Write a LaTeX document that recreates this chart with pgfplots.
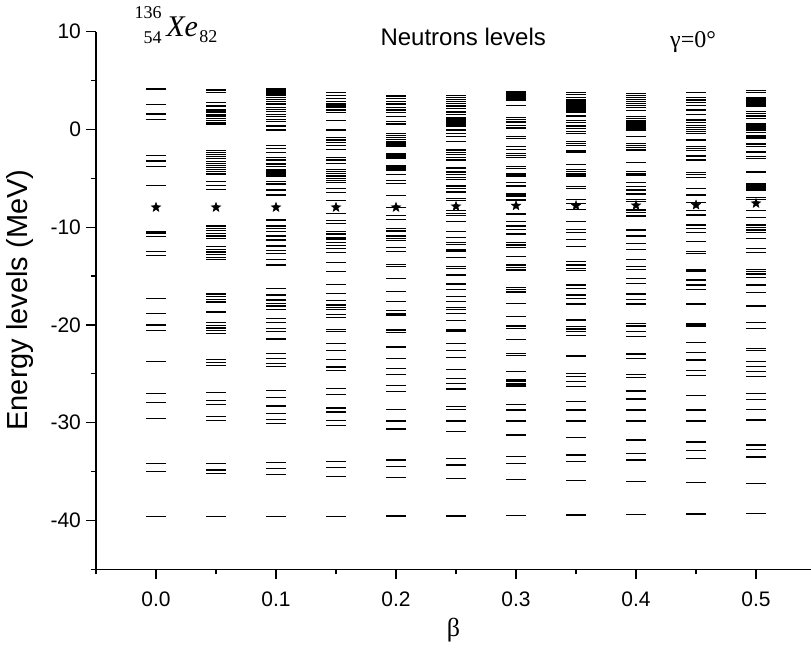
\documentclass[border=0pt]{standalone}
\usepackage{pgfplots}
\pgfplotsset{compat=1.18}
\usepackage{fontspec}
\setmainfont{Liberation Sans}
\newfontfamily\serif{Liberation Serif}
\pgfdeclareplotmark{fstar}{%
  \pgfpathmoveto{\pgfpointpolar{90}{\pgfplotmarksize}}%
  \pgfpathlineto{\pgfpointpolar{126}{0.42*\pgfplotmarksize}}%
  \pgfpathlineto{\pgfpointpolar{162}{\pgfplotmarksize}}%
  \pgfpathlineto{\pgfpointpolar{198}{0.42*\pgfplotmarksize}}%
  \pgfpathlineto{\pgfpointpolar{234}{\pgfplotmarksize}}%
  \pgfpathlineto{\pgfpointpolar{270}{0.42*\pgfplotmarksize}}%
  \pgfpathlineto{\pgfpointpolar{306}{\pgfplotmarksize}}%
  \pgfpathlineto{\pgfpointpolar{342}{0.42*\pgfplotmarksize}}%
  \pgfpathlineto{\pgfpointpolar{18}{\pgfplotmarksize}}%
  \pgfpathlineto{\pgfpointpolar{54}{0.42*\pgfplotmarksize}}%
  \pgfpathclose
  \pgfusepathqfillstroke}
\begin{document}
\begin{tikzpicture}
\useasboundingbox (-48pt,-39.85pt) rectangle (357.5pt,284.65pt);
\begin{axis}[
  scale only axis, width=357.5pt, height=268.8pt,
  xmin=-0.05, xmax=0.5458, ymin=-45, ymax=10,
  axis x line*=bottom, axis y line*=left,
  axis line style={line width=0.75pt},
  tick align=outside, major tick length=5pt, minor tick length=2.5pt,
  tick style={line width=0.6pt, black},
  xtick={0,0.1,0.2,0.3,0.4,0.5},
  minor xtick={-0.05,0.05,0.15,0.25,0.35,0.45},
  ytick={-40,-30,-20,-10,0,10},
  minor ytick={-45,-35,-25,-15,-5,5},
  /pgf/number format/assume math mode=true,
  xticklabel style={/pgf/number format/fixed, /pgf/number format/fixed zerofill, /pgf/number format/precision=1, yshift=-2.5pt},
  yticklabel style={xshift=1pt},
  ticklabel style={font=\fontsize{10.5}{12}\selectfont},
  clip=false,
  lvl/.style={only marks, mark=-, mark size=5pt, mark options={line width=0.6pt, black}},
]
\addplot[lvl] coordinates {(0,4.13)(0,2.57)(0,1.58)(0,1.03)(0,-2.69)(0,-3.23)(0,-3.81)(0,-5.76)(0,-10.45)(0,-10.6)(0,-10.97)(0,-12.5)(0,-12.9)(0,-17.3)(0,-18.85)(0,-20.0)(0,-20.6)(0,-23.7)(0,-27.0)(0,-27.9)(0,-29.6)(0,-34.2)(0,-35.0)(0,-39.6)};
\addplot[lvl] coordinates {(0.05,4.1)(0.05,3.95)(0.05,3.8)(0.05,2.77)(0.05,2.39)(0.05,1.98)(0.05,1.78)(0.05,1.57)(0.05,1.37)(0.05,1.1)(0.05,0.89)(0.05,0.69)(0.05,0.55)(0.05,-2.18)(0.05,-2.38)(0.05,-2.59)(0.05,-2.79)(0.05,-2.99)(0.05,-3.27)(0.05,-3.47)(0.05,-3.67)(0.05,-3.88)(0.05,-4.08)(0.05,-4.32)(0.05,-4.56)(0.05,-5.32)(0.05,-5.72)(0.05,-6.13)(0.05,-9.88)(0.05,-10.12)(0.05,-10.36)(0.05,-10.63)(0.05,-10.9)(0.05,-11.17)(0.05,-11.99)(0.05,-12.27)(0.05,-12.54)(0.05,-12.81)(0.05,-13.08)(0.05,-13.29)(0.05,-16.84)(0.05,-17.11)(0.05,-17.39)(0.05,-17.66)(0.05,-18.68)(0.05,-19.77)(0.05,-20.04)(0.05,-20.31)(0.05,-20.59)(0.05,-20.86)(0.05,-23.52)(0.05,-23.86)(0.05,-24.13)(0.05,-26.94)(0.05,-27.69)(0.05,-28.1)(0.05,-29.4)(0.05,-29.8)(0.05,-34.2)(0.05,-34.85)(0.05,-35.16)(0.05,-39.6)};
\addplot[lvl] coordinates {(0.1,4.13)(0.1,3.93)(0.1,3.72)(0.1,3.52)(0.1,3.28)(0.1,3.08)(0.1,2.87)(0.1,2.6)(0.1,2.26)(0.1,2.06)(0.1,1.85)(0.1,1.54)(0.1,1.3)(0.1,1.03)(0.1,0.79)(0.1,0.35)(0.1,-0.06)(0.1,-1.67)(0.1,-1.94)(0.1,-2.38)(0.1,-2.85)(0.1,-3.13)(0.1,-3.54)(0.1,-3.81)(0.1,-4.15)(0.1,-4.36)(0.1,-4.56)(0.1,-4.77)(0.1,-5.35)(0.1,-5.59)(0.1,-6.2)(0.1,-6.71)(0.1,-9.27)(0.1,-9.88)(0.1,-10.12)(0.1,-10.46)(0.1,-10.9)(0.1,-11.31)(0.1,-11.93)(0.1,-12.4)(0.1,-12.68)(0.1,-13.29)(0.1,-13.87)(0.1,-16.3)(0.1,-16.94)(0.1,-17.45)(0.1,-17.8)(0.1,-18.07)(0.1,-18.41)(0.1,-19.33)(0.1,-19.77)(0.1,-20.35)(0.1,-20.69)(0.1,-21.44)(0.1,-22.9)(0.1,-23.42)(0.1,-23.93)(0.1,-24.28)(0.1,-26.7)(0.1,-27.4)(0.1,-28.3)(0.1,-29.1)(0.1,-29.7)(0.1,-30.1)(0.1,-34.1)(0.1,-34.7)(0.1,-35.3)(0.1,-39.6)};
\addplot[lvl] coordinates {(0.15,3.76)(0.15,3.49)(0.15,3.14)(0.15,2.87)(0.15,2.6)(0.15,2.39)(0.15,2.26)(0.15,1.98)(0.15,1.71)(0.15,0.89)(0.15,-0.06)(0.15,-0.81)(0.15,-1.08)(0.15,-1.36)(0.15,-1.63)(0.15,-2.04)(0.15,-2.85)(0.15,-3.13)(0.15,-3.47)(0.15,-4.08)(0.15,-4.29)(0.15,-4.5)(0.15,-4.7)(0.15,-4.83)(0.15,-5.05)(0.15,-5.25)(0.15,-5.45)(0.15,-6.07)(0.15,-6.47)(0.15,-7.3)(0.15,-8.62)(0.15,-9.34)(0.15,-9.6)(0.15,-10.4)(0.15,-10.7)(0.15,-11.1)(0.15,-11.3)(0.15,-11.6)(0.15,-11.9)(0.15,-12.2)(0.15,-12.6)(0.15,-13.6)(0.15,-14.5)(0.15,-15.85)(0.15,-16.8)(0.15,-17.5)(0.15,-17.96)(0.15,-18.2)(0.15,-18.4)(0.15,-18.9)(0.15,-19.2)(0.15,-20.45)(0.15,-20.7)(0.15,-21.9)(0.15,-22.6)(0.15,-23.55)(0.15,-24.3)(0.15,-24.7)(0.15,-26.5)(0.15,-27.1)(0.15,-28.5)(0.15,-28.9)(0.15,-29.8)(0.15,-30.3)(0.15,-33.95)(0.15,-34.6)(0.15,-35.5)(0.15,-39.6)};
\addplot[lvl] coordinates {(0.2,3.42)(0.2,3.14)(0.2,2.87)(0.2,2.6)(0.2,2.26)(0.2,1.98)(0.2,1.71)(0.2,1.3)(0.2,0.79)(0.2,0.55)(0.2,-0.4)(0.2,-0.61)(0.2,-0.81)(0.2,-1.01)(0.2,-1.29)(0.2,-1.49)(0.2,-1.7)(0.2,-2.52)(0.2,-2.72)(0.2,-2.93)(0.2,-3.74)(0.2,-3.95)(0.2,-4.15)(0.2,-4.63)(0.2,-5.25)(0.2,-5.52)(0.2,-6.75)(0.2,-7.97)(0.2,-8.83)(0.2,-9.2)(0.2,-10.12)(0.2,-10.39)(0.2,-10.9)(0.2,-11.14)(0.2,-11.38)(0.2,-12.06)(0.2,-12.51)(0.2,-13.8)(0.2,-14.04)(0.2,-15.27)(0.2,-16.6)(0.2,-17.62)(0.2,-18.54)(0.2,-18.81)(0.2,-18.99)(0.2,-20.52)(0.2,-20.76)(0.2,-22.26)(0.2,-23.46)(0.2,-24.44)(0.2,-25.06)(0.2,-26.22)(0.2,-26.83)(0.2,-28.64)(0.2,-29.83)(0.2,-30.65)(0.2,-33.82)(0.2,-34.5)(0.2,-35.59)(0.2,-39.55)};
\addplot[lvl] coordinates {(0.25,3.49)(0.25,3.28)(0.25,3.08)(0.25,2.87)(0.25,2.67)(0.25,2.39)(0.25,2.12)(0.25,1.78)(0.25,1.5)(0.25,1.17)(0.25,0.96)(0.25,0.76)(0.25,0.55)(0.25,0.35)(0.25,-0.06)(0.25,-0.4)(0.25,-0.75)(0.25,-1.22)(0.25,-2.11)(0.25,-2.38)(0.25,-2.59)(0.25,-2.85)(0.25,-3.13)(0.25,-3.95)(0.25,-4.36)(0.25,-4.63)(0.25,-4.9)(0.25,-5.1)(0.25,-5.79)(0.25,-6.03)(0.25,-6.4)(0.25,-7.05)(0.25,-7.29)(0.25,-8.31)(0.25,-8.58)(0.25,-8.82)(0.25,-9.44)(0.25,-10.42)(0.25,-11.04)(0.25,-11.58)(0.25,-11.79)(0.25,-12.33)(0.25,-12.5)(0.25,-13.08)(0.25,-14.04)(0.25,-14.21)(0.25,-14.89)(0.25,-15.81)(0.25,-16.36)(0.25,-17.11)(0.25,-17.62)(0.25,-18.2)(0.25,-18.4)(0.25,-18.81)(0.25,-19.56)(0.25,-20.45)(0.25,-20.62)(0.25,-21.88)(0.25,-22.63)(0.25,-23.35)(0.25,-24.54)(0.25,-25.5)(0.25,-25.97)(0.25,-26.56)(0.25,-28.37)(0.25,-28.64)(0.25,-29.83)(0.25,-30.93)(0.25,-33.69)(0.25,-34.33)(0.25,-35.73)(0.25,-39.55)};
\addplot[lvl] coordinates {(0.3,3.83)(0.3,3.62)(0.3,3.42)(0.3,3.21)(0.3,3.01)(0.3,2.47)(0.3,1.24)(0.3,1.03)(0.3,0.83)(0.3,0.69)(0.3,0.42)(0.3,0.14)(0.3,-0.75)(0.3,-0.95)(0.3,-1.77)(0.3,-2.04)(0.3,-2.45)(0.3,-2.65)(0.3,-2.85)(0.3,-3.81)(0.3,-4.02)(0.3,-4.56)(0.3,-4.77)(0.3,-5.45)(0.3,-5.79)(0.3,-6.61)(0.3,-6.81)(0.3,-7.22)(0.3,-8.65)(0.3,-9.44)(0.3,-9.88)(0.3,-10.22)(0.3,-10.7)(0.3,-11.58)(0.3,-11.82)(0.3,-12.06)(0.3,-13.01)(0.3,-13.87)(0.3,-14.11)(0.3,-14.38)(0.3,-16.15)(0.3,-16.36)(0.3,-16.63)(0.3,-17.79)(0.3,-19.15)(0.3,-20.11)(0.3,-20.35)(0.3,-21.47)(0.3,-22.9)(0.3,-23.1)(0.3,-24.79)(0.3,-25.64)(0.3,-25.81)(0.3,-26.05)(0.3,-26.25)(0.3,-28.13)(0.3,-28.71)(0.3,-29.83)(0.3,-31.26)(0.3,-33.48)(0.3,-34.2)(0.3,-35.8)(0.3,-39.48)};
\addplot[lvl] coordinates {(0.35,3.76)(0.35,3.55)(0.35,3.28)(0.35,3.01)(0.35,2.8)(0.35,2.6)(0.35,2.39)(0.35,2.19)(0.35,1.98)(0.35,1.78)(0.35,1.37)(0.35,0.89)(0.35,0.69)(0.35,0.35)(0.35,0.07)(0.35,-0.2)(0.35,-0.4)(0.35,-1.22)(0.35,-1.42)(0.35,-1.63)(0.35,-2.18)(0.35,-2.31)(0.35,-3.61)(0.35,-4.08)(0.35,-4.29)(0.35,-4.56)(0.35,-4.77)(0.35,-5.86)(0.35,-6.06)(0.35,-7.15)(0.35,-7.56)(0.35,-8.17)(0.35,-9.44)(0.35,-10.22)(0.35,-10.56)(0.35,-11.24)(0.35,-11.99)(0.35,-13.53)(0.35,-13.87)(0.35,-14.21)(0.35,-14.45)(0.35,-15.92)(0.35,-16.26)(0.35,-16.94)(0.35,-17.28)(0.35,-17.86)(0.35,-19.5)(0.35,-20.18)(0.35,-20.42)(0.35,-20.69)(0.35,-21.1)(0.35,-23.18)(0.35,-24.95)(0.35,-25.3)(0.35,-25.81)(0.35,-26.32)(0.35,-27.86)(0.35,-28.71)(0.35,-29.83)(0.35,-31.5)(0.35,-33.31)(0.35,-33.99)(0.35,-35.94)(0.35,-39.45)};
\addplot[lvl] coordinates {(0.4,3.69)(0.4,3.49)(0.4,3.28)(0.4,3.08)(0.4,2.87)(0.4,2.67)(0.4,2.47)(0.4,2.26)(0.4,1.92)(0.4,1.3)(0.4,1.1)(0.4,0.89)(0.4,0.76)(0.4,0.55)(0.4,0.35)(0.4,0.14)(0.4,-0.06)(0.4,-0.75)(0.4,-1.42)(0.4,-1.63)(0.4,-1.83)(0.4,-2.11)(0.4,-3.4)(0.4,-4.29)(0.4,-4.5)(0.4,-4.66)(0.4,-5.45)(0.4,-5.86)(0.4,-6.2)(0.4,-6.61)(0.4,-7.15)(0.4,-7.39)(0.4,-8.24)(0.4,-8.51)(0.4,-8.85)(0.4,-10.29)(0.4,-10.9)(0.4,-11.65)(0.4,-12.27)(0.4,-13.29)(0.4,-14.04)(0.4,-14.31)(0.4,-15.24)(0.4,-15.75)(0.4,-16.84)(0.4,-17.39)(0.4,-17.86)(0.4,-19.84)(0.4,-20.11)(0.4,-20.66)(0.4,-21.2)(0.4,-22.97)(0.4,-23.42)(0.4,-25.1)(0.4,-25.36)(0.4,-26.76)(0.4,-27.58)(0.4,-28.71)(0.4,-29.83)(0.4,-31.78)(0.4,-33.14)(0.4,-33.82)(0.4,-36.04)(0.4,-39.38)};
\addplot[lvl] coordinates {(0.45,3.76)(0.45,3.28)(0.45,3.01)(0.45,2.74)(0.45,2.47)(0.45,1.98)(0.45,1.5)(0.45,0.96)(0.45,0.69)(0.45,0.42)(0.45,0.21)(0.45,0.01)(0.45,-0.2)(0.45,-0.4)(0.45,-1.08)(0.45,-1.77)(0.45,-1.97)(0.45,-2.18)(0.45,-2.72)(0.45,-3.13)(0.45,-4.43)(0.45,-4.63)(0.45,-4.9)(0.45,-6.03)(0.45,-6.71)(0.45,-7.5)(0.45,-8.31)(0.45,-8.75)(0.45,-9.78)(0.45,-10.12)(0.45,-10.56)(0.45,-11.48)(0.45,-12.51)(0.45,-12.68)(0.45,-14.38)(0.45,-14.55)(0.45,-15.41)(0.45,-15.92)(0.45,-16.36)(0.45,-17.86)(0.45,-19.91)(0.45,-20.11)(0.45,-21.82)(0.45,-22.84)(0.45,-23.59)(0.45,-24.68)(0.45,-25.2)(0.45,-27.2)(0.45,-28.71)(0.45,-29.83)(0.45,-31.98)(0.45,-32.87)(0.45,-33.69)(0.45,-36.14)(0.45,-39.35)};
\addplot[lvl] coordinates {(0.5,3.96)(0.5,3.76)(0.5,3.21)(0.5,3.01)(0.5,2.8)(0.5,2.6)(0.5,2.39)(0.5,1.85)(0.5,1.65)(0.5,1.37)(0.5,1.1)(0.5,0.55)(0.5,0.35)(0.5,0.14)(0.5,-0.06)(0.5,-0.34)(0.5,-0.68)(0.5,-0.88)(0.5,-1.49)(0.5,-1.77)(0.5,-2.31)(0.5,-2.79)(0.5,-3.0)(0.5,-4.36)(0.5,-5.59)(0.5,-5.79)(0.5,-6.0)(0.5,-6.2)(0.5,-6.95)(0.5,-7.15)(0.5,-8.31)(0.5,-9.03)(0.5,-9.78)(0.5,-10.02)(0.5,-10.29)(0.5,-10.56)(0.5,-11.14)(0.5,-12.17)(0.5,-12.61)(0.5,-14.31)(0.5,-14.55)(0.5,-14.79)(0.5,-15.13)(0.5,-15.92)(0.5,-16.7)(0.5,-18.06)(0.5,-19.77)(0.5,-20.39)(0.5,-22.4)(0.5,-22.63)(0.5,-23.76)(0.5,-24.28)(0.5,-24.79)(0.5,-25.3)(0.5,-27.0)(0.5,-27.61)(0.5,-28.64)(0.5,-29.73)(0.5,-32.29)(0.5,-32.73)(0.5,-33.51)(0.5,-36.2)(0.5,-39.31)};
\addplot[only marks, mark=fstar, mark size=2.5pt, mark options={black, line width=0.2pt}] coordinates {(0,-7.97)(0.05,-7.97)(0.1,-7.97)(0.15,-7.97)(0.2,-7.97)(0.25,-7.87)(0.3,-7.8)(0.35,-7.8)(0.4,-7.77)(0.45,-7.73)(0.5,-7.56)};
\node[anchor=base, font=\fontsize{12}{14}\selectfont] at (axis cs:0.256,8.54) {Neutrons levels};
\node[anchor=base, font=\serif\fontsize{12}{14}\selectfont] at (axis cs:0.4475,8.35) {γ=0°};
\node[anchor=base east, font=\serif\fontsize{9}{10}\selectfont, inner sep=0pt] at (axis cs:0.005,11.4) {136};
\node[anchor=base east, font=\serif\fontsize{9}{10}\selectfont, inner sep=0pt] at (axis cs:0.005,8.84) {54};
\node[anchor=base west, font=\serif\itshape\fontsize{15}{17}\selectfont, inner sep=0pt] (xe) at (axis cs:0.0083,9.49) {Xe};
\node[anchor=base west, font=\serif\fontsize{9}{10}\selectfont, inner sep=0pt] at ([xshift=0.3pt,yshift=-3.15pt]xe.base east) {82};
\node[rotate=90, font=\fontsize{14.5}{17}\selectfont] at (axis cs:-0.1133,-17.45) {Energy levels (MeV)};
\node[font=\serif\fontsize{13}{15}\selectfont] at (axis cs:0.2479,-51.2) {β};
\end{axis}
\end{tikzpicture}
\end{document}
